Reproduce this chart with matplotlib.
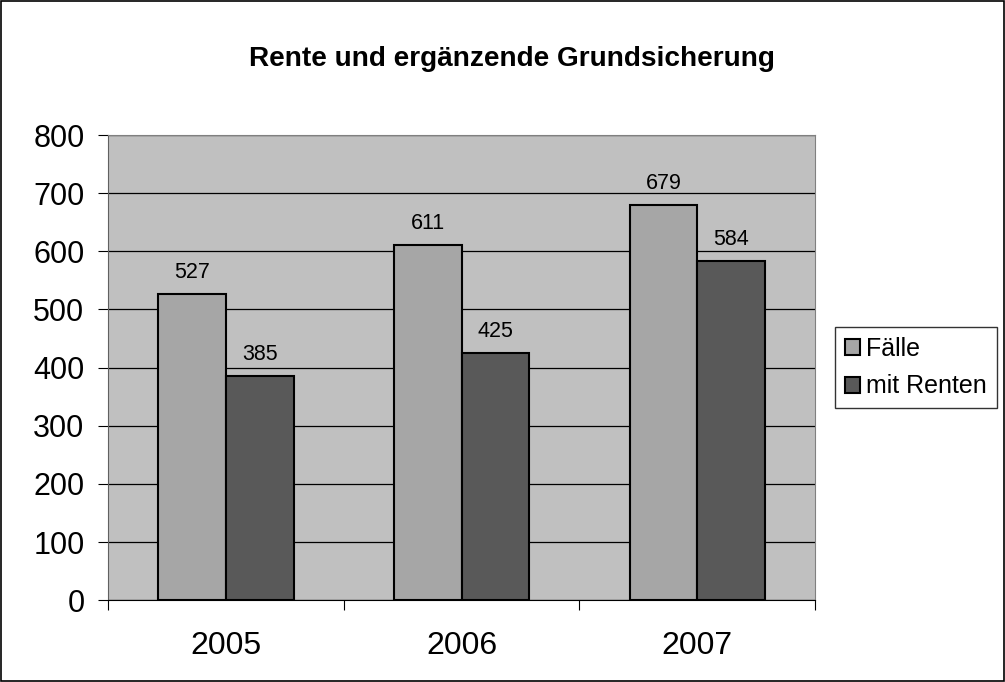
import numpy as np
import matplotlib.pyplot as plt
from matplotlib.patches import Rectangle

plt.rcParams['font.family'] = ['Liberation Sans', 'DejaVu Sans']

# Data
years = ['2005', '2006', '2007']
faelle = [527, 611, 679]
mit_renten = [385, 425, 584]

col_faelle = '#A6A6A6'
col_renten = '#595959'

fig = plt.figure(figsize=(10.05, 6.82), dpi=100)
ax = fig.add_axes([0.1075, 0.12, 0.7035, 0.682])
ax.set_facecolor('#C0C0C0')

x = np.arange(len(years))
w = 0.287
b1 = ax.bar(x - w / 2, faelle, w, color=col_faelle, edgecolor='black', linewidth=1.5, label='Fälle', zorder=3)
b2 = ax.bar(x + w / 2, mit_renten, w, color=col_renten, edgecolor='black', linewidth=1.5, label='mit Renten', zorder=3)

for bars, vals in ((b1, faelle), (b2, mit_renten)):
    for r, v in zip(bars, vals):
        ax.annotate(str(v), (r.get_x() + r.get_width() / 2, v), xytext=(0, 8),
                    textcoords='offset points', ha='center', va='bottom', fontsize=15.5)

ax.set_ylim(0, 800)
ax.set_yticks(range(0, 801, 100))
ax.set_xlim(-0.5, 2.5)
ax.yaxis.grid(True, color='black', linewidth=0.9, zorder=1)
ax.set_axisbelow(True)

# category ticks at boundaries, labels centered
ax.set_xticks([-0.5, 0.5, 1.5, 2.5])
ax.set_xticklabels([])
ax.set_xticks(x, minor=True)
ax.set_xticklabels(years, minor=True, fontsize=23)
ax.tick_params(axis='x', which='minor', length=0, pad=22)
ax.tick_params(axis='x', which='major', length=7, direction='out', color='black')
ax.tick_params(axis='y', length=7, direction='out', labelsize=22, pad=10)

for s in ['top', 'right']:
    ax.spines[s].set_color('#808080')
ax.spines['left'].set_color('#606060')
ax.spines['bottom'].set_color('black')

fig.suptitle('Rente und ergänzende Grundsicherung', fontsize=20.2, fontweight='bold',
             x=0.509, y=0.933)

leg = ax.legend(loc='center left', bbox_to_anchor=(1.028, 0.5), fontsize=18, frameon=True,
                fancybox=False, edgecolor='black', handlelength=0.62, handleheight=0.62,
                handletextpad=0.22, borderpad=0.4, labelspacing=0.55, borderaxespad=0)
leg.get_frame().set_linewidth(1.0)

# outer border
fig.patches.append(Rectangle((0.001, 0.001), 0.998, 0.997, transform=fig.transFigure,
                             fill=False, edgecolor='black', linewidth=1.2))

fig.savefig('out.png', dpi=100)
